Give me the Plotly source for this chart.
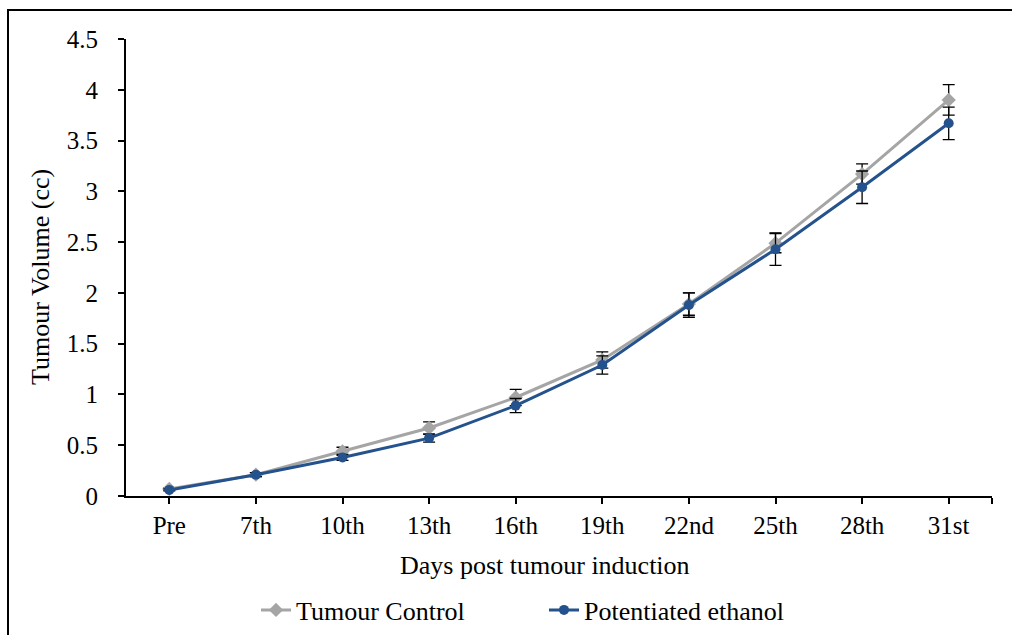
import plotly.graph_objects as go

days = ["Pre", "7th", "10th", "13th", "16th", "19th", "22nd", "25th", "28th", "31st"]
control = [0.07, 0.21, 0.44, 0.67, 0.97, 1.34, 1.89, 2.49, 3.17, 3.90]
control_err = [0.01, 0.02, 0.04, 0.06, 0.08, 0.08, 0.11, 0.095, 0.10, 0.15]
ethanol = [0.06, 0.21, 0.38, 0.57, 0.89, 1.29, 1.88, 2.43, 3.04, 3.67]
ethanol_err = [0.01, 0.02, 0.03, 0.04, 0.07, 0.09, 0.12, 0.16, 0.16, 0.16]
y_ticks = [0, 0.5, 1, 1.5, 2, 2.5, 3, 3.5, 4, 4.5]
y_ticktext = ["0", "0.5", "1", "1.5", "2", "2.5", "3", "3.5", "4", "4.5"]

FONT = "Liberation Serif, Times New Roman, serif"
GREY = "#A5A5A5"
BLUE = "#24528C"
FS = 25

xpos = list(range(len(days)))

fig = go.Figure()
fig.add_trace(go.Scatter(
    x=xpos, y=control, name="Tumour Control", mode="lines+markers",
    line=dict(color=GREY, width=3),
    marker=dict(symbol="diamond", size=11, color=GREY),
    error_y=dict(type="data", array=control_err, color="black", thickness=1.3, width=6),
))
fig.add_trace(go.Scatter(
    x=xpos, y=ethanol, name="Potentiated ethanol", mode="lines+markers",
    line=dict(color=BLUE, width=3),
    marker=dict(symbol="circle", size=10, color=BLUE),
    error_y=dict(type="data", array=ethanol_err, color="black", thickness=1.3, width=6),
))

L, R, T, B = 126, 20, 39, 139
W, H = 1012, 635
pw = W - L - R
ph = H - T - B

def px_x(px):
    return (px - L) / pw

def px_y(py):
    return (H - B - py) / ph

fig.update_layout(
    width=W, height=H,
    margin=dict(l=L, r=R, t=T, b=B, pad=0, autoexpand=False),
    paper_bgcolor="white", plot_bgcolor="white",
    font=dict(family=FONT, size=FS, color="black"),
    showlegend=True,
    legend=dict(
        orientation="h", x=px_x(256), xanchor="left", y=px_y(610), yanchor="middle",
        entrywidth=243, entrywidthmode="pixels",
        font=dict(family=FONT, size=26, color="black"),
        bgcolor="rgba(0,0,0,0)",
    ),
    xaxis=dict(
        range=[-0.5, 9.5],
        tickmode="array",
        tickvals=xpos + [9.5],
        ticktext=days + [""],
        ticks="outside", ticklen=6, tickwidth=1.5, tickcolor="black",
        ticklabelstandoff=0, automargin=False,
        showline=True, linecolor="black", linewidth=2,
        showgrid=False, zeroline=False,
        tickfont=dict(family=FONT, size=FS, color="black"),
    ),
    yaxis=dict(
        range=[0, 4.5],
        tickmode="array", tickvals=y_ticks, ticktext=y_ticktext,
        ticks="outside", ticklen=6, tickwidth=1.5, tickcolor="black",
        ticklabelstandoff=15, automargin=False,
        showline=True, linecolor="black", linewidth=2,
        showgrid=False, zeroline=False,
        tickfont=dict(family=FONT, size=FS, color="black"),
    ),
    annotations=[
        dict(text="Days post tumour induction", xref="paper", yref="paper",
             x=px_x(545), y=px_y(565), xanchor="center", yanchor="middle",
             showarrow=False, font=dict(family=FONT, size=26, color="black")),
        dict(text="Tumour Volume (cc)", xref="paper", yref="paper",
             x=px_x(40), y=px_y(277), xanchor="center", yanchor="middle",
             textangle=-90, showarrow=False,
             font=dict(family=FONT, size=26, color="black")),
    ],
    shapes=[
        dict(type="rect", xref="paper", yref="paper",
             x0=px_x(8), x1=px_x(1030), y0=px_y(660), y1=px_y(10),
             line=dict(color="black", width=2), fillcolor="rgba(0,0,0,0)", layer="above"),
    ],
)

fig.write_html("out.html")
